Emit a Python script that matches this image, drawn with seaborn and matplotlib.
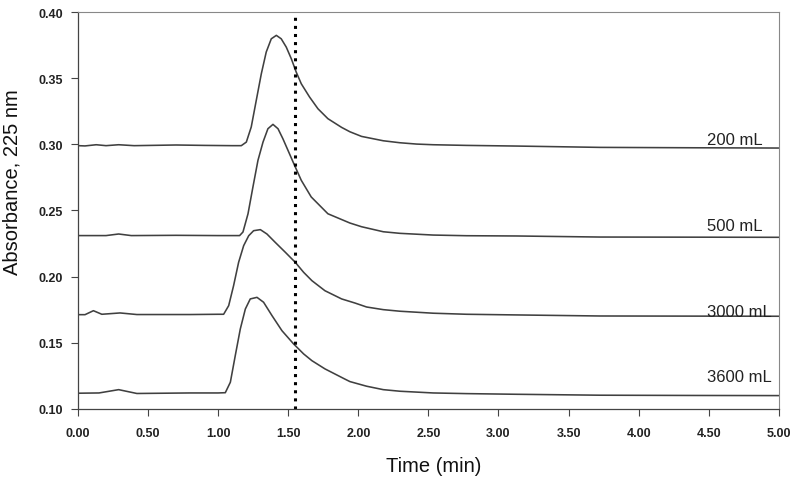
import pandas as pd
import matplotlib.pyplot as plt
import seaborn as sns

t_200 = [0.00, 0.05, 0.13, 0.20, 0.29, 0.40, 0.70, 0.90, 1.10, 1.165, 1.201, 1.236, 1.272, 1.308,
         1.343, 1.379, 1.415, 1.450, 1.486, 1.522, 1.557, 1.593, 1.652, 1.712, 1.783, 1.881,
         1.940, 2.023, 2.178, 2.297, 2.416, 2.534, 2.772, 3.129, 3.723, 4.40, 5.00]
a_200 = [0.2990, 0.2988, 0.2997, 0.2990, 0.2997, 0.2990, 0.2995, 0.2992, 0.2990, 0.2990, 0.3017,
         0.3131, 0.3333, 0.3534, 0.3698, 0.3798, 0.3824, 0.3798, 0.3735, 0.3647, 0.3546, 0.3458,
         0.3358, 0.3269, 0.3194, 0.3128, 0.3095, 0.3060, 0.3027, 0.3012, 0.3002, 0.2997, 0.2992,
         0.2987, 0.2977, 0.2974, 0.2972]

t_500 = [0.00, 0.20, 0.29, 0.38, 0.70, 1.00, 1.153, 1.177, 1.213, 1.248, 1.284, 1.320, 1.355,
         1.391, 1.427, 1.462, 1.498, 1.545, 1.593, 1.664, 1.783, 1.940, 2.023, 2.178, 2.297,
         2.534, 2.772, 3.129, 3.723, 4.40, 5.00]
a_500 = [0.2310, 0.2310, 0.2322, 0.2310, 0.2312, 0.2310, 0.2310, 0.2337, 0.2475, 0.2677, 0.2879,
         0.3017, 0.3118, 0.3151, 0.3118, 0.3042, 0.2955, 0.2841, 0.2728, 0.2602, 0.2475, 0.2405,
         0.2377, 0.2339, 0.2327, 0.2314, 0.2309, 0.2307, 0.2299, 0.2298, 0.2297]

t_3000 = [0.00, 0.05, 0.11, 0.17, 0.30, 0.42, 0.80, 1.00, 1.039, 1.075, 1.110, 1.146, 1.182,
          1.218, 1.253, 1.301, 1.348, 1.407, 1.479, 1.550, 1.610, 1.669, 1.762, 1.881, 1.976,
          2.059, 2.178, 2.297, 2.534, 2.772, 3.129, 3.723, 4.40, 5.00]
a_3000 = [0.1712, 0.1712, 0.1742, 0.1715, 0.1725, 0.1713, 0.1713, 0.1715, 0.1715, 0.1780, 0.1931,
          0.2108, 0.2234, 0.2309, 0.2347, 0.2355, 0.2322, 0.2259, 0.2184, 0.2108, 0.2032, 0.1969,
          0.1893, 0.1831, 0.1800, 0.1770, 0.1750, 0.1738, 0.1723, 0.1715, 0.1710, 0.1702, 0.1701,
          0.1700]

t_3600 = [0.00, 0.15, 0.29, 0.42, 0.80, 1.00, 1.051, 1.087, 1.122, 1.158, 1.194, 1.229, 1.277,
          1.324, 1.384, 1.455, 1.538, 1.610, 1.669, 1.762, 1.904, 1.940, 2.059, 2.178, 2.297,
          2.534, 2.772, 3.129, 3.723, 4.40, 5.00]
a_3600 = [0.1118, 0.1120, 0.1145, 0.1116, 0.1120, 0.1120, 0.1122, 0.1201, 0.1402, 0.1604, 0.1755,
          0.1831, 0.1843, 0.1806, 0.1705, 0.1591, 0.1491, 0.1415, 0.1364, 0.1302, 0.1225, 0.1206,
          0.1171, 0.1145, 0.1133, 0.1120, 0.1115, 0.1110, 0.1103, 0.1101, 0.1100]

volumes = ['200 mL', '500 mL', '3000 mL', '3600 mL']
label_x = 4.486
label_y = [0.3002, 0.2352, 0.1702, 0.1213]
cut_time = 1.548

rows = []
for vol, tt, aa in zip(volumes, [t_200, t_500, t_3000, t_3600], [a_200, a_500, a_3000, a_3600]):
    for t, a in zip(tt, aa):
        rows.append({'time': t, 'abs': a, 'volume': vol})
df = pd.DataFrame(rows)

sns.set_style('white')
plt.rcParams['font.family'] = ['Liberation Sans', 'DejaVu Sans']

fig = plt.figure(figsize=(8, 4.85), dpi=100)
ax = fig.add_axes([0.0975, 0.155, 0.876, 0.818])

sns.lineplot(data=df, x='time', y='abs', hue='volume', palette=['#404040'] * 4,
             estimator=None, sort=False, legend=False, linewidth=1.15, ax=ax)
ax.axvline(cut_time, color='black', linestyle=':', linewidth=2.2)

for vol, y in zip(volumes, label_y):
    ax.text(label_x, y, vol, ha='left', va='baseline', fontsize=12, color='#222222')

ax.set_xlim(0, 5)
ax.set_ylim(0.10, 0.40)
ax.set_xticks([i * 0.5 for i in range(11)])
ax.set_yticks([0.10, 0.15, 0.20, 0.25, 0.30, 0.35, 0.40])
ax.set_xticklabels(['%.2f' % (i * 0.5) for i in range(11)])
ax.set_yticklabels(['%.2f' % v for v in [0.10, 0.15, 0.20, 0.25, 0.30, 0.35, 0.40]])
ax.tick_params(axis='both', direction='out', length=5, width=0.8, color='#444444',
               labelsize=9, labelcolor='#222222', bottom=True, left=True)
ax.tick_params(axis='x', pad=8)
ax.tick_params(axis='y', pad=6)
for lab in ax.get_xticklabels() + ax.get_yticklabels():
    lab.set_fontweight('bold')

for side in ['left', 'bottom']:
    ax.spines[side].set_color('#444444')
    ax.spines[side].set_linewidth(0.9)
for side in ['top', 'right']:
    ax.spines[side].set_color('#888888')
    ax.spines[side].set_linewidth(0.8)

ax.set_xlabel('Time (min)', fontsize=14.5, color='#111111')
ax.set_ylabel('Absorbance, 225 nm', fontsize=14.5, color='#111111')
ax.xaxis.set_label_coords(0.508, -0.118)
ax.yaxis.set_label_coords(-0.080, 0.574)

fig.savefig('out.png', dpi=100)
